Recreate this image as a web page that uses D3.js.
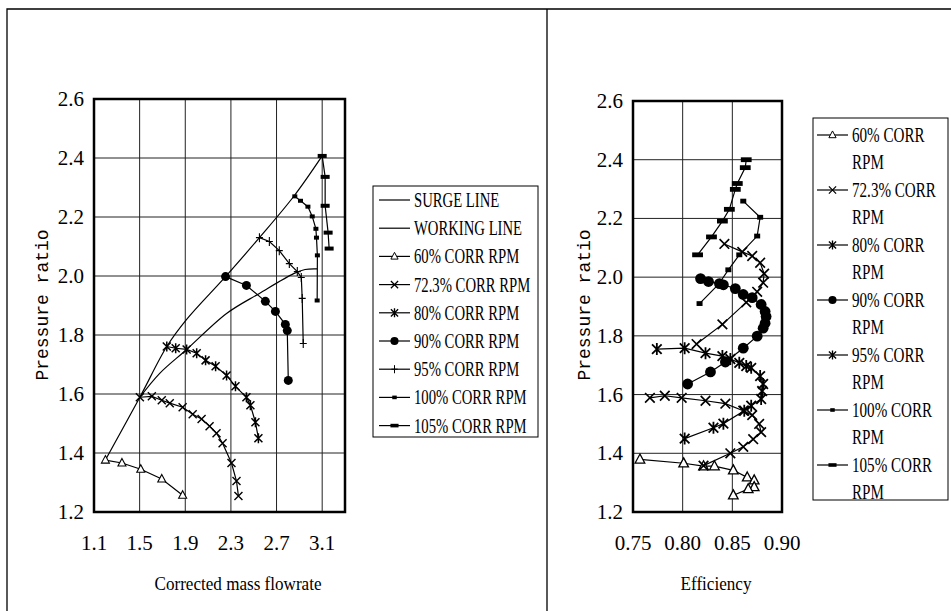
<!DOCTYPE html>
<html lang="en">
<head>
<meta charset="UTF-8">
<title>Compressor map</title>
<script src="https://cdn.jsdelivr.net/npm/d3@7"></script>
<style>
  body { margin: 0; background: #fff; }
  svg { display: block; }
</style>
</head>
<body>
<svg id="chart" width="951" height="611"></svg>
<script>
// axis ticks
var flowTicks = [1.1, 1.5, 1.9, 2.3, 2.7, 3.1];
var effTicks = [0.75, 0.80, 0.85, 0.90];
var prTicks = [1.2, 1.4, 1.6, 1.8, 2.0, 2.2, 2.4, 2.6];

var speedNames = ["60% CORR RPM", "72.3% CORR RPM", "80% CORR RPM", "90% CORR RPM",
                  "95% CORR RPM", "100% CORR RPM", "105% CORR RPM"];

// left: corrected mass flowrate vs pressure ratio
var surgeLine = [[1.2,1.376],[1.502,1.589],[1.738,1.761],[1.912,1.853],[2.253,1.998],[2.55,2.13],[2.855,2.272],[3.1,2.407]];
var workingLine = [[1.502,1.589],[1.676,1.670],[1.912,1.751],[2.262,1.873],[2.55,1.941],[2.85,2.008],[2.95,2.022],[3.056,2.024]];
var flow60 = [[1.2,1.376],[1.345,1.366],[1.51,1.345],[1.694,1.312],[1.877,1.257]];
var flow72 = [[1.502,1.589],[1.607,1.592],[1.694,1.579],[1.764,1.569],[1.877,1.555],[1.965,1.531],[2.043,1.515],
              [2.113,1.491],[2.174,1.467],[2.227,1.433],[2.305,1.366],[2.349,1.305],[2.366,1.254]];
var flow80 = [[1.738,1.761],[1.816,1.755],[1.912,1.751],[2.0,1.738],[2.078,1.714],[2.166,1.694],[2.262,1.663],
              [2.34,1.626],[2.436,1.589],[2.471,1.562],[2.515,1.504],[2.541,1.45]];
var flow90 = [[2.253,1.998],[2.436,1.968],[2.602,1.914],[2.69,1.880],[2.777,1.836],[2.794,1.815],[2.803,1.646]];
var flow95 = [[2.55,2.13],[2.637,2.117],[2.724,2.086],[2.812,2.042],[2.882,2.015],[2.917,1.995],[2.925,1.924],[2.934,1.771]];
var flow100 = [[2.86,2.27],[2.91,2.255],[2.975,2.235],[3.013,2.202],[3.045,2.16],[3.05,2.13],[3.058,2.07],[3.056,1.917]];
var flow105 = [[3.1,2.407],[3.126,2.336],[3.126,2.238],[3.152,2.147],[3.161,2.093]];

// right: efficiency vs pressure ratio
var eff60 = [[0.757,1.379],[0.801,1.366],[0.821,1.356],[0.832,1.356],[0.851,1.342],[0.865,1.318],
             [0.872,1.308],[0.872,1.285],[0.866,1.278],[0.851,1.257]];
var eff72 = [[0.767,1.589],[0.782,1.596],[0.799,1.589],[0.823,1.579],[0.843,1.569],[0.861,1.545],[0.870,1.530],
             [0.877,1.500],[0.879,1.472],[0.871,1.448],[0.861,1.422],[0.848,1.400],[0.821,1.358]];
var eff80 = [[0.774,1.755],[0.802,1.758],[0.823,1.741],[0.840,1.731],[0.848,1.721],[0.857,1.708],[0.864,1.697],
             [0.869,1.691],[0.878,1.663],[0.881,1.636],[0.880,1.612],[0.879,1.585],[0.869,1.562],[0.862,1.545],
             [0.841,1.501],[0.831,1.487],[0.802,1.45]];
var eff90 = [[0.818,1.995],[0.826,1.985],[0.837,1.978],[0.841,1.974],[0.853,1.961],[0.861,1.941],[0.870,1.930],
             [0.879,1.907],[0.883,1.883],[0.884,1.866],[0.883,1.843],[0.881,1.826],[0.875,1.799],[0.861,1.758],
             [0.843,1.711],[0.828,1.677],[0.805,1.636]];
var eff95 = [[0.842,2.113],[0.860,2.086],[0.870,2.072],[0.878,2.049],[0.882,2.012],[0.881,1.981],[0.875,1.950],
             [0.864,1.914],[0.840,1.839],[0.814,1.772]];
var eff100 = [[0.861,2.259],[0.878,2.204],[0.875,2.140],[0.857,2.076],[0.846,2.025],[0.836,1.975],[0.817,1.910]];
var eff105 = [[0.864,2.400],[0.863,2.373],[0.855,2.319],[0.853,2.299],[0.847,2.231],[0.840,2.191],[0.829,2.137],[0.815,2.076]];

var flowSeries = [flow60, flow72, flow80, flow90, flow95, flow100, flow105];
var effSeries = [eff60, eff72, eff80, eff90, eff95, eff100, eff105];
var leftMarks = ["tri", "x", "star", "dot", "plus", "sq", "bar"];
var rightMarks = ["tri", "x", "star", "dot", "x", "sq", "bar"];
var rightLegendMarks = ["tri", "x", "star", "dot", "star", "sq", "bar"];

var svg = d3.select("#chart");
var serif = "'Liberation Serif', 'Times New Roman', serif";

// outer frame and divider
svg.append("path")
  .attr("d", "M7,611L7,9L951,9M547,9L547,611")
  .attr("fill", "none").attr("stroke", "#000").attr("stroke-width", 1.3);

function marker(g, type, cx, cy, s) {
  s = s || 1;
  var m = g.append("g").attr("transform", "translate(" + cx + "," + cy + ") scale(" + s + ")");
  if (type == "tri") {
    m.append("path").attr("d", "M0,-4.5L4,3L-4,3Z")
      .attr("fill", "#fff").attr("stroke", "#000").attr("stroke-width", 1.1);
  } else if (type == "x") {
    m.append("path").attr("d", "M-4,-4L4,4M-4,4L4,-4")
      .attr("stroke", "#000").attr("stroke-width", 1.4);
  } else if (type == "star") {
    m.append("path").attr("d", "M-4,-4L4,4M-4,4L4,-4M0,-5L0,5")
      .attr("stroke", "#000").attr("stroke-width", 1.5);
  } else if (type == "dot") {
    m.append("circle").attr("r", 4.5).attr("fill", "#000");
  } else if (type == "plus") {
    m.append("path").attr("d", "M0,-4.5L0,4.5M-3.5,0L3.5,0")
      .attr("stroke", "#000").attr("stroke-width", 1.1);
  } else if (type == "sq") {
    m.append("rect").attr("x", -2.5).attr("y", -2).attr("width", 5).attr("height", 4).attr("fill", "#000");
  } else if (type == "bar") {
    m.append("rect").attr("x", -4.5).attr("y", -2).attr("width", 9).attr("height", 4).attr("fill", "#000");
  }
}

// squeezed text, the original font is tall and narrow
function label(g, x, y, str, size, sx, anchor) {
  g.append("text")
    .attr("transform", "translate(" + x + "," + y + ") scale(" + sx + ",1)")
    .attr("text-anchor", anchor || "start")
    .style("font-family", serif)
    .style("font-size", size + "px")
    .text(str);
}

function panel(opts) {
  var x = d3.scaleLinear().domain(opts.xDomain).range(opts.xRange);
  var y = d3.scaleLinear().domain([1.2, 2.6]).range(opts.yRange);
  var g = svg.append("g");

  // grid
  g.selectAll(".vg").data(opts.xTicks).enter().append("line")
    .attr("x1", function(d){ return x(d); }).attr("x2", function(d){ return x(d); })
    .attr("y1", opts.yRange[0]).attr("y2", opts.yRange[1])
    .attr("stroke", "#222").attr("stroke-width", 1);
  g.selectAll(".hg").data(prTicks).enter().append("line")
    .attr("x1", opts.xRange[0]).attr("x2", opts.xRange[1])
    .attr("y1", function(d){ return y(d); }).attr("y2", function(d){ return y(d); })
    .attr("stroke", "#222").attr("stroke-width", 1);

  // tick labels
  g.selectAll(".xl").data(opts.xTicks).enter().append("text")
    .attr("x", function(d){ return x(d); }).attr("y", opts.yRange[0] + 38)
    .attr("text-anchor", "middle")
    .style("font-family", serif).style("font-size", "21px")
    .text(function(d){ return d.toFixed(opts.xDigits); });
  g.selectAll(".yl").data(prTicks).enter().append("text")
    .attr("x", opts.xRange[0] - 10).attr("y", function(d){ return y(d) + 7; })
    .attr("text-anchor", "end")
    .style("font-family", serif).style("font-size", "21px")
    .text(function(d){ return d.toFixed(1); });

  // axis titles
  label(g, opts.titleX, 590, opts.xTitle, 19, 0.9, "middle");
  g.append("text")
    .attr("transform", "translate(" + opts.yTitleX + ",305) rotate(-90)")
    .attr("text-anchor", "middle")
    .style("font-family", "'Liberation Mono', monospace").style("font-size", "18px")
    .text("Pressure ratio");

  var line = d3.line().x(function(d){ return x(d[0]); }).y(function(d){ return y(d[1]); });
  var smooth = d3.line().curve(d3.curveCatmullRom)
    .x(function(d){ return x(d[0]); }).y(function(d){ return y(d[1]); });

  (opts.curves || []).forEach(function(c) {
    g.append("path").attr("d", smooth(c)).attr("fill", "none")
      .attr("stroke", "#000").attr("stroke-width", 1.2);
  });

  opts.series.forEach(function(s, i) {
    g.append("path").attr("d", line(s)).attr("fill", "none")
      .attr("stroke", "#000").attr("stroke-width", 1.2);
    s.forEach(function(p) {
      marker(g, opts.marks[i], x(p[0]), y(p[1]), opts.markScale);
    });
  });

  // plot border
  g.append("rect")
    .attr("x", opts.xRange[0]).attr("y", opts.yRange[1])
    .attr("width", opts.xRange[1] - opts.xRange[0]).attr("height", opts.yRange[0] - opts.yRange[1])
    .attr("fill", "none").attr("stroke", "#000").attr("stroke-width", 2.5);
}

panel({
  xDomain: [1.1, 3.3], xRange: [94, 345], yRange: [512, 99],
  xTicks: flowTicks, xDigits: 1, xTitle: "Corrected mass flowrate", titleX: 238, yTitleX: 48,
  series: flowSeries, marks: leftMarks, curves: [surgeLine, workingLine], markScale: 1
});
panel({
  xDomain: [0.75, 0.90], xRange: [633, 782], yRange: [512, 101],
  xTicks: effTicks, xDigits: 2, xTitle: "Efficiency", titleX: 716, yTitleX: 590,
  series: effSeries, marks: rightMarks, markScale: 1.2
});

// left legend
var lg = svg.append("g");
var leftItems = ["SURGE LINE", "WORKING LINE"].concat(speedNames);
var leftItemMarks = [null, null].concat(leftMarks);
lg.append("rect").attr("x", 373).attr("y", 186).attr("width", 165).attr("height", 251)
  .attr("fill", "#fff").attr("stroke", "#000").attr("stroke-width", 1);
leftItems.forEach(function(name, i) {
  var cy = 200 + i * 28.2;
  lg.append("line").attr("x1", 379).attr("x2", 410).attr("y1", cy).attr("y2", cy)
    .attr("stroke", "#000").attr("stroke-width", 1.2);
  if (leftItemMarks[i]) marker(lg, leftItemMarks[i], 394.5, cy, 0.9);
  label(lg, 414, cy + 7, name, 21, 0.7);
});

// right legend, labels wrap onto two lines
var rg = svg.append("g");
rg.append("rect").attr("x", 813).attr("y", 118).attr("width", 135).attr("height", 382)
  .attr("fill", "#fff").attr("stroke", "#000").attr("stroke-width", 1);
speedNames.forEach(function(name, i) {
  var cy = 135 + i * 55;
  rg.append("line").attr("x1", 817).attr("x2", 848).attr("y1", cy).attr("y2", cy)
    .attr("stroke", "#000").attr("stroke-width", 1.2);
  marker(rg, rightLegendMarks[i], 832.5, cy, 0.9);
  label(rg, 852, cy + 7, name.replace(" RPM", ""), 21, 0.72);
  label(rg, 852, cy + 34, "RPM", 21, 0.72);
});
</script>
</body>
</html>
